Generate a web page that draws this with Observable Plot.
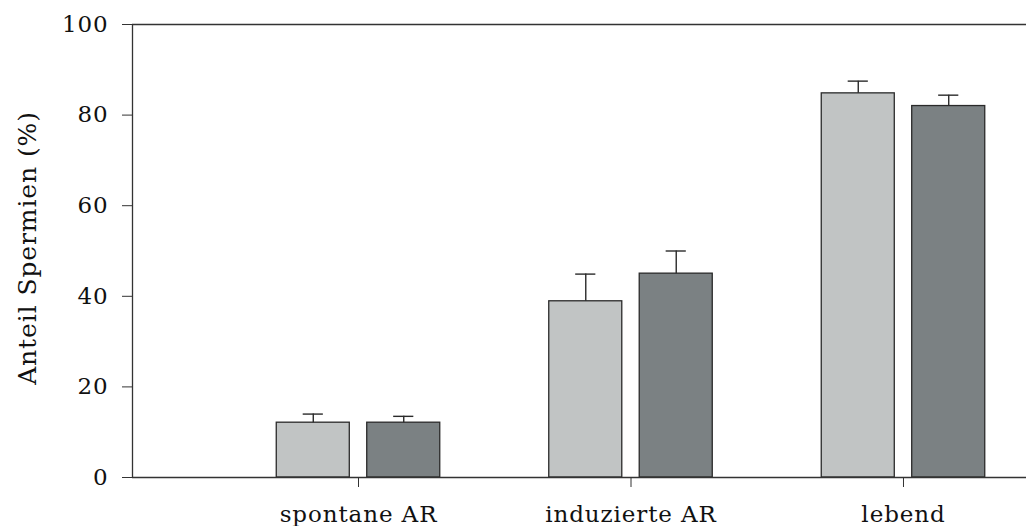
<!DOCTYPE html>
<html>
<head>
<meta charset="utf-8">
<script src="https://cdn.jsdelivr.net/npm/d3@7"></script>
<script src="https://cdn.jsdelivr.net/npm/@observablehq/plot@0.6"></script>
<style>
  html, body { margin: 0; padding: 0; background: #fff; }
  #chart svg { display: block; }
  #chart svg text { letter-spacing: 0.9px; }
</style>
</head>
<body>
<div id="chart"></div>
<script>
const categories = ["spontane AR", "induzierte AR", "lebend"];
const groupNames = ["Gruppe 1", "Gruppe 2"];
const meansG1 = [12.1, 38.9, 84.8];
const errG1 = [1.9, 6.0, 2.7];
const meansG2 = [12.1, 45.0, 82.0];
const errG2 = [1.4, 5.0, 2.4];
const yTicks = [0, 20, 40, 60, 80, 100];
const yLabel = "Anteil Spermien (%)";
const colors = ["#c1c4c4", "#7b8183"];

const offset = 0.166;   // group offset from category centre (in category units)
const halfW = 0.134;    // half bar width
const capHalf = 0.037;  // half cap width

const rows = [];
categories.forEach((c, i) => {
  rows.push({cat: c, idx: i + 1, g: 0, mean: meansG1[i], err: errG1[i]});
  rows.push({cat: c, idx: i + 1, g: 1, mean: meansG2[i], err: errG2[i]});
});
rows.forEach(r => { r.cx = r.idx + (r.g === 0 ? -offset : offset); });

const ink = "#2a2a2a";
const chart = Plot.plot({
  width: 1026,
  height: 526,
  marginLeft: 132,
  marginRight: 0,
  marginTop: 24,
  marginBottom: 49,
  style: {fontFamily: "'DejaVu Serif', serif", fontSize: "23px", color: "#111", background: "#fff"},
  x: {domain: [0.1706, 3.4514], type: "linear"},
  y: {domain: [0, 100]},
  marks: [
    Plot.rectY(rows, {
      x1: d => d.cx - halfW, x2: d => d.cx + halfW,
      y1: 0, y2: "mean",
      fill: d => colors[d.g], stroke: ink, strokeWidth: 1.3
    }),
    Plot.ruleX(rows, {x: "cx", y1: "mean", y2: d => d.mean + d.err, stroke: ink, strokeWidth: 1.4}),
    Plot.ruleY(rows, {y: d => d.mean + d.err, x1: d => d.cx - capHalf, x2: d => d.cx + capHalf, stroke: ink, strokeWidth: 1.4}),
    Plot.ruleY([0, 100], {stroke: "#333", strokeWidth: 1.3}),
    Plot.ruleX([0.1706], {stroke: "#333", strokeWidth: 1.3}),
    Plot.axisY({
      ticks: yTicks, tickSize: 10, tickPadding: 14, stroke: "#333",
      label: null, fontSize: 23
    }),
    Plot.text([yLabel], {
      text: d => d, frameAnchor: "left", textAnchor: "middle", lineAnchor: "middle",
      rotate: -90, dx: -105, dy: -3,
      fontSize: 25, fill: "#111"
    }),
    Plot.axisX({
      ticks: [1, 2, 3], tickFormat: d => categories[d - 1], tickSize: 10, tickPadding: 18,
      stroke: "#333", label: null, fontSize: 23
    })
  ]
});
document.getElementById("chart").appendChild(chart);
</script>
</body>
</html>
